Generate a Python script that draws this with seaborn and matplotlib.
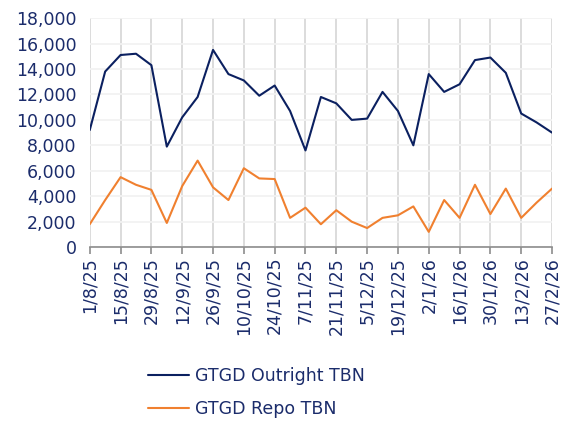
import pandas as pd
import numpy as np
from matplotlib import pyplot as plt
import seaborn as sns

sns.set_style("white")
plt.rcParams['font.family'] = ['DejaVu Sans']

TEXT = "#1B2C6B"
NAVY = "#0B2060"
ORANGE = "#F0802F"

dates = pd.date_range("2025-08-01", periods=31, freq="7D")
outright = [9200, 13800, 15100, 15200, 14300, 7900, 10200, 11800, 15500, 13600,
            13100, 11900, 12700, 10700, 7600, 11800, 11300, 10000, 10100, 12200,
            10700, 8000, 13600, 12200, 12800, 14700, 14900, 13700, 10500, 9800, 9000]
repo = [1800, 3700, 5500, 4900, 4500, 1900, 4800, 6800, 4700, 3700,
        6200, 5400, 5350, 2300, 3100, 1800, 2900, 2000, 1500, 2300,
        2500, 3200, 1200, 3700, 2300, 4900, 2600, 4600, 2300, 3500, 4600]

df = pd.DataFrame({
    "date": list(dates) * 2,
    "value": outright + repo,
    "series": ["GTGD Outright TBN"] * 31 + ["GTGD Repo TBN"] * 31,
})

fig = plt.figure(figsize=(5.61, 4.21), dpi=100)
ax = fig.add_axes([0.160, 0.413, 0.824, 0.544])
sns.lineplot(data=df, x="date", y="value", hue="series",
             palette=[NAVY, ORANGE], linewidth=1.5, ax=ax, legend=False)

ticks = dates[::2]
ax.set_xticks(ticks)
ax.set_xticklabels([f"{d.day}/{d.month}/{d.strftime('%y')}" for d in ticks],
                   rotation=90, color=TEXT, fontsize=12.5)
ax.set_xlim(dates[0], dates[-1])
ax.set_ylim(0, 18000)
ax.set_yticks(range(0, 18001, 2000))
ax.set_yticklabels([f"{v:,}" for v in range(0, 18001, 2000)], color=TEXT, fontsize=12.5)
ax.set_xlabel("")
ax.set_ylabel("")

ax.grid(axis="x", color="#D9D9D9", linewidth=1.3)
ax.grid(axis="y", color="#F2F2F2", linewidth=1.3)
ax.set_axisbelow(True)
for s in ["left", "right", "top"]:
    ax.spines[s].set_visible(False)
ax.spines["bottom"].set_color("#8C8C8C")
ax.spines["bottom"].set_linewidth(1.2)
ax.tick_params(axis="x", bottom=True, length=5, color="#8C8C8C", width=1.2, pad=2)
ax.tick_params(axis="y", left=False, pad=6)

handles = [plt.Line2D([], [], color=NAVY, linewidth=1.5),
           plt.Line2D([], [], color=ORANGE, linewidth=1.5)]
fig.legend(handles, ["GTGD Outright TBN", "GTGD Repo TBN"],
           loc="upper left", bbox_to_anchor=(0.251, 0.145), frameon=False,
           fontsize=12.5, labelcolor=TEXT, handlelength=2.4, handletextpad=0.3,
           labelspacing=0.85, borderaxespad=0)

fig.savefig("out.png", dpi=100)
